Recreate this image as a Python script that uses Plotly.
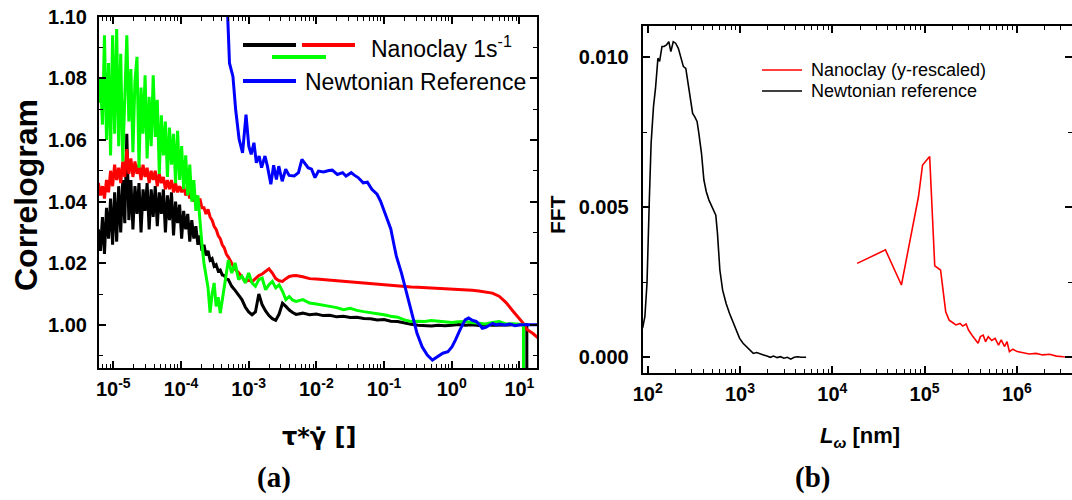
import plotly.graph_objects as go

# ---------------- data: panel (a) correlogram ----------------
tau = [
    6.03e-6, 6.46e-6, 6.92e-6, 7.41e-6, 7.94e-6, 8.51e-6, 9.12e-6, 9.77e-6,
    1.047e-5, 1.122e-5, 1.202e-5, 1.288e-5, 1.380e-5, 1.479e-5, 1.585e-5, 1.698e-5,
    1.820e-5, 1.950e-5, 2.089e-5, 2.239e-5, 2.399e-5, 2.570e-5, 2.754e-5, 2.951e-5,
    3.162e-5, 3.388e-5, 3.631e-5, 3.890e-5, 4.169e-5, 4.467e-5, 4.786e-5, 5.129e-5,
    5.495e-5, 5.888e-5, 6.310e-5, 6.761e-5, 7.244e-5, 7.762e-5, 8.318e-5, 8.913e-5,
    9.550e-5, 1.023e-4, 1.096e-4, 1.175e-4, 1.259e-4, 1.349e-4, 1.445e-4, 1.549e-4,
    1.660e-4, 1.778e-4, 1.905e-4, 2.042e-4, 2.188e-4, 2.344e-4, 2.512e-4, 2.692e-4,
    2.884e-4, 3.090e-4, 3.311e-4, 3.548e-4, 3.802e-4, 4.074e-4, 4.365e-4, 4.677e-4,
    5.012e-4,
    5.623e-4, 6.310e-4, 7.079e-4, 7.943e-4, 8.913e-4, 1.0e-3, 1.122e-3, 1.259e-3,
    1.413e-3, 1.585e-3, 1.778e-3, 1.995e-3, 2.239e-3, 2.512e-3, 2.818e-3, 3.162e-3,
    3.548e-3, 3.981e-3, 4.467e-3, 5.012e-3,
    6.310e-3, 7.943e-3, 1.0e-2, 1.259e-2, 1.585e-2, 1.995e-2, 2.512e-2, 3.162e-2,
    3.981e-2, 5.012e-2, 6.310e-2, 7.943e-2, 0.1, 0.1259, 0.1585, 0.1995, 0.2512,
    0.3162, 0.3981, 0.5012, 0.6310, 0.7943, 1.0, 1.259, 1.585, 1.995, 2.512, 3.162,
    3.981, 5.012, 6.310, 7.943, 10.0,
    11.48, 11.5, 12.88, 12.9, 15.85, 19.5,
]

corr_black = [
    1.031, 1.024, 1.035, 1.023, 1.038, 1.028, 1.041, 1.026, 1.043, 1.027,
    1.045, 1.030, 1.047, 1.033, 1.062, 1.034, 1.047, 1.031, 1.045, 1.036,
    1.046, 1.030, 1.044, 1.037, 1.046, 1.031, 1.044, 1.035, 1.045, 1.032,
    1.043, 1.036, 1.044, 1.030, 1.042, 1.034, 1.043, 1.029, 1.040, 1.033,
    1.039, 1.028, 1.037, 1.031, 1.036, 1.027, 1.034, 1.028, 1.032, 1.026,
    1.029, 1.024, 1.026, 1.0225, 1.024, 1.021, 1.0215, 1.019, 1.0195, 1.0175,
    1.0178, 1.0162, 1.016, 1.0148, 1.0147,
    1.0125, 1.0112, 1.0095, 1.0082, 1.0058, 1.0042, 1.0033, 1.0042, 1.0100, 1.0065,
    1.0045, 1.0030, 1.0020, 1.0015, 1.0035, 1.0070, 1.0060, 1.0048, 1.0040, 1.0034,
    1.0038, 1.0033, 1.0035, 1.0030, 1.0031, 1.0026, 1.0028, 1.0024, 1.0025, 1.0021,
    1.0020, 1.0016, 1.0017, 1.0012, 1.0011, 1.0006, 1.0002, 0.9999, 0.9998, 0.9996,
    0.9999, 0.9997, 0.9999, 1.0001, 0.9999, 1.0, 0.9998, 1.0001, 0.9999, 1.0,
    0.9999, 1.0, 1.0,
    1.0, 1.0, 1.0, 0.95, None, None,
]

corr_red = [
    1.046, 1.042, 1.045, 1.041, 1.047, 1.043, 1.050, 1.045, 1.052, 1.047,
    1.051, 1.046, 1.053, 1.048, 1.057, 1.049, 1.054, 1.048, 1.053, 1.049,
    1.052, 1.047, 1.052, 1.048, 1.051, 1.046, 1.050, 1.047, 1.050, 1.045,
    1.049, 1.046, 1.048, 1.044, 1.047, 1.044, 1.047, 1.043, 1.046, 1.043,
    1.045, 1.043, 1.045, 1.042, 1.044, 1.041, 1.043, 1.040, 1.042, 1.039,
    1.041, 1.038, 1.038, 1.036, 1.0375, 1.035, 1.034, 1.032, 1.031, 1.029,
    1.028, 1.026, 1.025, 1.023, 1.022,
    1.020, 1.018, 1.017, 1.0155, 1.014, 1.0145, 1.014, 1.015, 1.016, 1.0165,
    1.0175, 1.0182, 1.0168, 1.015, 1.0143, 1.0141, 1.015, 1.0157, 1.0159, 1.016,
    1.0156, 1.015, 1.0149, 1.0147, 1.0146, 1.0143, 1.0141, 1.0139, 1.0137, 1.0135,
    1.0133, 1.0131, 1.0129, 1.0127, 1.0125, 1.0124, 1.0123, 1.0122, 1.0121, 1.012,
    1.0118, 1.0117, 1.0116, 1.0115, 1.0114, 1.0112, 1.0110, 1.0107, 1.0103, 1.0093,
    1.0073, 1.0046, 1.0019,
    1.0005, 1.0004, 0.9986, 0.9985, 0.9972, 0.9955,
]

corr_green = [
    1.072, 1.080, 1.065, 1.094, 1.060, 1.085, 1.055, 1.094, 1.062, 1.096,
    1.058, 1.088, 1.053, 1.078, 1.094, 1.066, 1.083, 1.056, 1.079, 1.087,
    1.051, 1.077, 1.062, 1.081, 1.054, 1.074, 1.058, 1.081, 1.061, 1.073,
    1.049, 1.068, 1.055, 1.066, 1.048, 1.064, 1.052, 1.062, 1.046, 1.063,
    1.047, 1.058, 1.044, 1.055, 1.042, 1.052, 1.040, 1.047, 1.037, 1.042,
    1.033, 1.026, 1.020, 1.016, 1.012, 1.004, 1.010, 1.0136, 1.006, 1.009,
    1.0038, 1.008, 1.0125, 1.017, 1.021,
    1.0168, 1.0201, 1.0147, 1.0158, 1.0136, 1.0168, 1.0136, 1.0125, 1.0147, 1.0152,
    1.0114, 1.0130, 1.0141, 1.0120, 1.0130, 1.0109, 1.0082, 1.0092, 1.0080, 1.0076,
    1.0082, 1.0071, 1.0068, 1.0065, 1.0060, 1.0056, 1.0049, 1.0054, 1.0047, 1.0043,
    1.0040, 1.0036, 1.0033, 1.0028, 1.0025, 1.0016, 1.0011, 1.0012, 1.0011, 1.0014,
    1.0012, 1.0011, 1.0008, 1.0010, 1.0011, 1.0008, 1.0006, 1.0003, 1.0008, 1.0011,
    1.0003, 1.0004, 1.0002,
    1.0, 0.95, None, None, None, None,
]

tau_newt = [
    4.62e-4, 5.21e-4, 5.86e-4, 6.43e-4, 7.23e-4, 8.13e-4, 9.14e-4, 1.005e-3,
    1.09e-3, 1.197e-3, 1.30e-3, 1.429e-3, 1.552e-3, 1.742e-3, 1.892e-3, 2.128e-3,
    2.339e-3, 2.57e-3, 2.786e-3, 3.133e-3, 3.524e-3, 3.963e-3, 4.72e-3, 5.445e-3,
    6.12e-3, 6.71e-3, 7.55e-3, 8.49e-3, 9.55e-3, 1.074e-2, 1.28e-2, 1.528e-2,
    1.718e-2, 2.046e-2, 2.443e-2, 2.748e-2, 3.273e-2, 3.681e-2, 4.14e-2, 4.93e-2,
    5.675e-2, 6.61e-2, 7.89e-2, 8.87e-2, 0.1057, 0.1259, 0.1432, 0.152,
    0.1811, 0.2158, 0.2576, 0.3069, 0.3656, 0.4355, 0.5188, 0.6194,
    0.7379, 0.879, 1.012, 1.138, 1.324, 1.578, 1.774, 2.042,
    2.296, 2.582, 2.831, 3.184, 3.581, 4.027, 4.529, 5.082,
    6.067, 7.228, 8.61, 10.26, 12.97, 19.5,
]
corr_newt = [
    1.115, 1.0849, 1.0806, 1.0698, 1.0602, 1.0558, 1.0682, 1.058,
    1.0553, 1.0591, 1.0526, 1.0548, 1.051, 1.0548, 1.0515, 1.0456,
    1.0518, 1.0472, 1.0515, 1.0466, 1.0505, 1.0485, 1.0483, 1.0494,
    1.0537, 1.0526, 1.051, 1.0505, 1.0478, 1.0499, 1.0496, 1.0501,
    1.0502, 1.0488, 1.0494, 1.0483, 1.0494, 1.0485, 1.0478, 1.0461,
    1.0463, 1.044, 1.0424, 1.0402, 1.0359, 1.0311, 1.0250, 1.0223,
    1.0168, 1.0103, 1.0038, 0.9973, 0.9929, 0.9902, 0.9886, 0.9897,
    0.9908, 0.9913, 0.9929, 0.9951, 0.9984, 1.0016, 1.0022, 1.0014,
    1.0011, 1.0, 0.9989, 0.9992, 1.0, 1.0005, 1.0, 1.0003,
    1.0, 1.0003, 0.9997, 1.0, 1.0, 1.0,
]

# ---------------- data: panel (b) FFT ----------------
L_newt = [
    88.1, 93.3, 98.3, 100, 104.2, 108.9, 115.6, 121.6, 129.1, 134.6,
    142.9, 150.3, 159.6, 169.4, 178.2, 189.2, 200.9, 214.8, 230.1, 243.8,
    258.8, 272.3, 289.1, 306.9, 322.8, 342.8, 358.1, 382.8, 406.4, 431.5,
    461.3, 494.3, 524.8, 547.0, 570.2, 586.1, 605.3, 648.6, 706.3, 769.1,
    837.5, 910.4, 990.8, 1079, 1175, 1279, 1393, 1517, 1652, 1799,
    1959, 2128, 2317, 2523, 2748, 2992, 3258, 3548, 3864, 4207,
    4581, 5200,
]
fft_newt = [
    0.00097, 0.00136, 0.00247, 0.00358, 0.00524, 0.00713, 0.00836, 0.00897, 0.00997, 0.00986,
    0.01036, 0.01036, 0.01041, 0.01052, 0.01019, 0.01052, 0.01047, 0.0103, 0.00991, 0.00969,
    0.00963, 0.00913, 0.00858, 0.00813, 0.00802, 0.00786, 0.00747, 0.0068, 0.00591, 0.00552,
    0.00524, 0.00502, 0.00486, 0.00474, 0.00413, 0.00358, 0.00291, 0.00224, 0.0018, 0.00147,
    0.00119, 0.00091, 0.00063, 0.00047, 0.00036, 0.00024, 0.00013, 0.00016, 0.00011, 0.00008,
    0.00004, 0.0, 0.00004, -0.00001, 0.00002, -0.00003, 0.0, -0.00006, 0.0, 0.00002,
    0.0, 0.0,
]

L_clay = [
    18580, 37670, 56100, 66530, 75510, 85900, 95060, 113500, 128800, 148900,
    169400, 184500, 200900, 218300, 242100, 258800, 281800, 299200, 334200, 379300,
    402700, 431500, 458100, 489800, 533300, 580700, 632400, 676100, 736200, 781600,
    829800, 903600, 1.009e6, 1.146e6, 1.358e6, 1.611e6, 1.905e6, 2.259e6, 2.679e6, 3.177e6,
    3.767e6, 4.276e6,
]
fft_clay = [
    0.00313, 0.00358, 0.00241, 0.00358, 0.00436, 0.00536, 0.00641, 0.00669, 0.00305, 0.00291,
    0.00152, 0.00124, 0.00116, 0.00108, 0.00113, 0.00104, 0.00111, 0.00091, 0.00069, 0.00047,
    0.00069, 0.00074, 0.00052, 0.00069, 0.00056, 0.00063, 0.00041, 0.00058, 0.00036, 0.00052,
    0.00019, 0.00027, 0.00019, 0.00016, 0.00011, 0.00013, 0.00008, 0.0001, 0.00004, 0.00002,
    0.0, 0.0,
]

left_ticks = [1e-5, 1e-4, 1e-3, 1e-2, 1e-1, 1, 10]
left_ticktext = ["10<sup>-5</sup>", "10<sup>-4</sup>", "10<sup>-3</sup>", "10<sup>-2</sup>",
                 "10<sup>-1</sup>", "10<sup>0</sup>", "10<sup>1</sup>"]
right_ticks = [1e2, 1e3, 1e4, 1e5, 1e6]
right_ticktext = ["10<sup>2</sup>", "10<sup>3</sup>", "10<sup>4</sup>", "10<sup>5</sup>", "10<sup>6</sup>"]
corr_ticks = [1.00, 1.02, 1.04, 1.06, 1.08, 1.10]
fft_ticks = [0.0, 0.005, 0.010]

# ---------------- figure ----------------
W, H = 1072, 500


def px(x):
    return x / W


def py(y):
    return 1 - y / H


def log_minor(lo, hi):
    vals = []
    for d in range(lo, hi + 1):
        for m in range(2, 10):
            vals.append(m * 10.0 ** d)
    return vals


FONT = "Liberation Sans"
tickfont = dict(family=FONT, size=20, color="black", weight="bold")
minor_style = dict(ticks="inside", ticklen=4, tickwidth=1.3, tickcolor="black", showgrid=False)
common = dict(showline=True, linecolor="black", linewidth=2, mirror="ticks",
              ticks="inside", ticklen=7, tickwidth=1.5, tickcolor="black",
              showgrid=False, zeroline=False, tickfont=tickfont, automargin=False)

fig = go.Figure()
fig.add_trace(go.Scatter(x=tau, y=corr_black, mode="lines", line=dict(color="#000000", width=3),
                         xaxis="x", yaxis="y", showlegend=False))
fig.add_trace(go.Scatter(x=tau, y=corr_red, mode="lines", line=dict(color="#ff0000", width=3),
                         xaxis="x", yaxis="y", showlegend=False))
fig.add_trace(go.Scatter(x=tau, y=corr_green, mode="lines", line=dict(color="#00ff00", width=3),
                         xaxis="x", yaxis="y", showlegend=False))
fig.add_trace(go.Scatter(x=tau_newt, y=corr_newt, mode="lines", line=dict(color="#0000ff", width=3),
                         xaxis="x", yaxis="y", showlegend=False))
fig.add_trace(go.Scatter(x=L_newt, y=fft_newt, mode="lines", line=dict(color="#000000", width=1.6),
                         xaxis="x2", yaxis="y2", showlegend=False))
fig.add_trace(go.Scatter(x=L_clay, y=fft_clay, mode="lines", line=dict(color="#ff0000", width=1.6),
                         xaxis="x2", yaxis="y2", showlegend=False))

fig.update_layout(
    template="none",
    width=W, height=H, margin=dict(l=0, r=0, t=0, b=0, pad=0, autoexpand=False),
    paper_bgcolor="white", plot_bgcolor="white", showlegend=False,
    xaxis=dict(type="log", range=[-5.211, 1.260], domain=[px(99), px(537)], anchor="y",
               tickmode="array", tickvals=left_ticks, ticktext=left_ticktext,
               minor=dict(tickvals=log_minor(-6, 1), **minor_style), ticklabelstandoff=2, **common),
    yaxis=dict(range=[0.986, 1.10], domain=[py(368), py(16.7)], anchor="x",
               tickmode="array", tickvals=corr_ticks, tickformat=".2f",
               minor=dict(tickvals=[0.99, 1.01, 1.03, 1.05, 1.07, 1.09], **minor_style),
               ticklabelstandoff=6, **common),
    xaxis2=dict(type="log", range=[1.946, 6.597], domain=[px(642.7), 1.0], anchor="y2",
                tickmode="array", tickvals=right_ticks, ticktext=right_ticktext,
                minor=dict(tickvals=log_minor(1, 6), **minor_style), ticklabelstandoff=2, **common),
    yaxis2=dict(range=[-0.000533, 0.011043], domain=[py(373.3), py(26)], anchor="x2",
                tickmode="array", tickvals=fft_ticks, tickformat=".3f",
                minor=dict(tickvals=[0.0025, 0.0075], **minor_style),
                ticklabelstandoff=8, **common),
)

shapes = []
annotations = []


def leg_line(x0, x1, y, color, width):
    shapes.append(dict(type="line", xref="paper", yref="paper", x0=px(x0), x1=px(x1),
                       y0=py(y), y1=py(y), line=dict(color=color, width=width)))


def text(x, y, s, size, xanchor="left", family=FONT, weight="normal", angle=0, yanchor="middle"):
    annotations.append(dict(xref="paper", yref="paper", x=px(x), y=py(y), text=s, showarrow=False,
                            xanchor=xanchor, yanchor=yanchor, textangle=angle,
                            font=dict(family=family, size=size, color="black", weight=weight)))


# left legend
leg_line(243, 296, 45, "#000000", 4)
leg_line(302, 355, 45, "#ff0000", 4)
leg_line(272, 326, 57, "#00ff00", 4)
leg_line(243, 296, 81, "#0000ff", 4)
text(369, 47, "Nanoclay 1s<sup>-1</sup>", 23)
text(303, 82, "Newtonian Reference", 23)

# right legend
leg_line(762, 802, 70, "#ff0000", 1.6)
leg_line(762, 802, 91, "#000000", 1.6)
text(809, 70, "Nanoclay (y-rescaled)", 18)
text(809, 91, "Newtonian reference", 18)

# axis titles
text(26, 195, "Correlogram", 32, xanchor="center", weight="bold", angle=-90)
text(319, 437, "τ*γ\u0307 []", 24, xanchor="center", family="DejaVu Sans", weight="bold")
text(558, 215, "FFT", 21, xanchor="center", weight="bold", angle=-90)
text(860, 437, "<i>L</i><sub><i>ω</i></sub> [nm]", 22, xanchor="center", weight="bold")

# sub-captions
text(274, 477, "(a)", 29, xanchor="center", family="Liberation Serif", weight="bold")
text(812, 477, "(b)", 29, xanchor="center", family="Liberation Serif", weight="bold")

fig.update_layout(shapes=shapes, annotations=annotations)
fig.write_html("out.html", config={"displayModeBar": False},
               post_script="document.body.style.margin='0px';document.body.style.overflow='hidden';")
